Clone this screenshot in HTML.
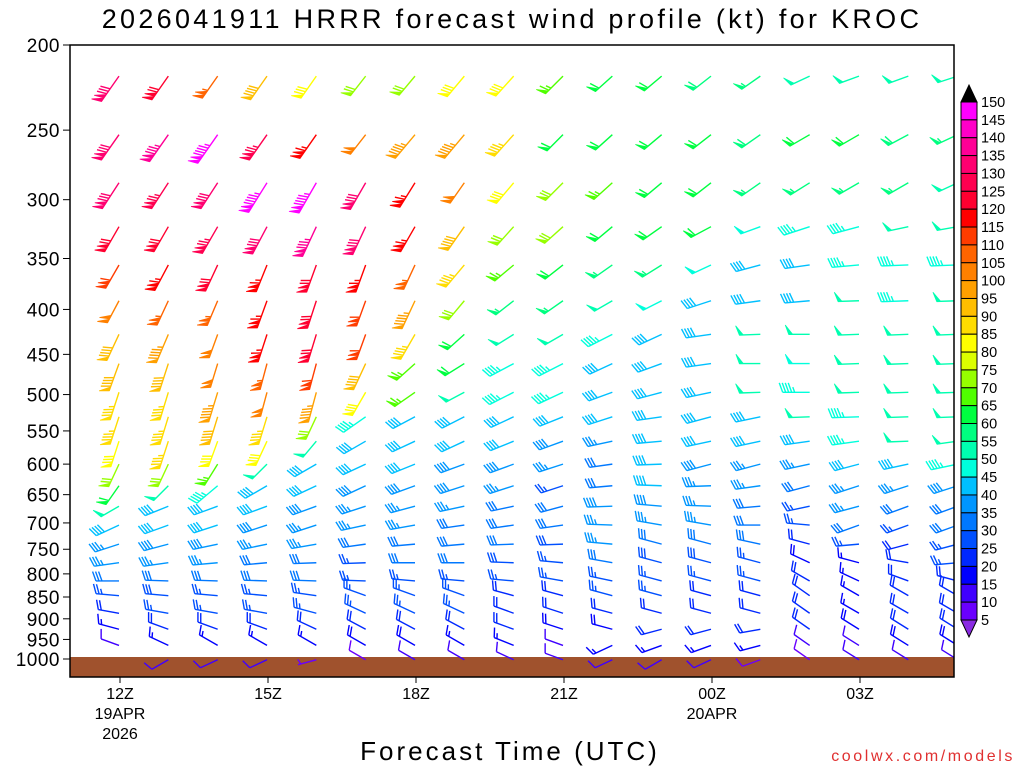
<!DOCTYPE html>
<html><head><meta charset="utf-8"><style>
body{margin:0;background:#fff;width:1024px;height:768px;overflow:hidden}
svg{display:block;font-family:"Liberation Sans",sans-serif}
</style></head><body>
<svg id="c" width="1024" height="768" viewBox="0 0 1024 768">
<text x="512" y="28" text-anchor="middle" font-size="27" fill="#000" letter-spacing="3.3">2026041911 HRRR forecast wind profile (kt) for KROC</text>
<text x="510" y="760" text-anchor="middle" font-size="26" fill="#000" letter-spacing="3">Forecast Time (UTC)</text>
<text x="1015" y="761" text-anchor="end" font-size="16" fill="#e03030" letter-spacing="2.6">coolwx.com/models</text>
<g id="plot"></g>
<g id="axes"></g>
<g id="cbar"></g>
</svg>
<script>
const hours=[12,13,14,15,16,17,18,19,20,21,22,23,24,25,26,27,28,29];
const levels=[217,253,287,322,356,391,427,461,497,530,565,600,635,670,704,740,777,815,847,887,925,965,1002];
const yTicks=[200,250,300,350,400,450,500,550,600,650,700,750,800,850,900,950,1000];
const xTickHours=[12,15,18,21,24,27];
const xTickLabels=["12Z","15Z","18Z","21Z","00Z","03Z"];
const cbLabels=[150,145,140,135,130,125,120,115,110,105,100,95,90,85,80,75,70,65,60,55,50,45,40,35,30,25,20,15,10,5];
const speed=[
[130,120,105,90,80,70,70,80,80,65,60,60,58,55,52,50,50,50],
[130,135,145,125,115,100,95,95,85,60,60,60,60,58,60,60,58,55],
[130,125,130,145,145,130,115,100,80,70,65,60,60,55,57,55,55,52],
[120,120,125,130,135,130,115,90,70,70,62,60,60,48,45,45,50,50],
[110,115,120,115,120,115,105,85,65,60,55,57,48,40,40,45,45,45],
[100,105,105,115,120,110,95,70,55,55,52,48,40,40,42,50,45,50],
[90,95,100,115,120,110,85,60,50,50,45,40,40,50,50,50,50,50],
[90,90,100,105,110,90,65,60,45,45,42,40,40,50,48,50,50,50],
[85,85,95,100,95,80,65,50,45,45,40,40,40,50,45,50,50,50],
[85,85,90,85,70,45,42,42,42,40,40,40,40,40,50,45,50,50],
[80,85,82,80,50,40,40,40,40,38,35,40,40,40,40,45,50,50],
[72,70,65,50,40,40,40,38,38,35,30,40,38,35,35,40,40,45],
[60,50,45,40,40,38,38,38,35,25,30,40,35,35,30,35,35,38],
[50,40,40,40,38,35,35,35,32,32,38,38,35,30,25,35,30,30],
[40,40,40,38,35,35,35,32,30,30,37,35,35,32,25,30,25,30],
[35,38,38,35,35,30,30,30,30,28,35,30,30,30,20,25,22,25],
[35,35,35,30,30,27,30,30,28,27,30,28,28,25,18,15,20,25],
[30,30,30,30,30,25,25,25,25,25,25,25,25,25,20,15,20,20],
[25,28,27,27,25,25,25,25,22,22,25,25,22,22,20,15,20,20],
[20,25,25,25,25,25,25,25,20,20,20,22,20,20,20,15,20,22],
[15,22,22,22,20,22,22,22,20,18,18,20,20,20,20,18,20,22],
[10,15,15,15,15,18,18,15,15,12,15,15,15,15,12,12,18,18],
[null,10,12,10,5,8,12,12,10,10,10,12,12,8,8,10,12,12]];
const dir=[
[215,215,215,215,215,218,220,220,222,225,228,230,232,235,245,250,250,252],
[215,215,215,215,215,218,220,220,222,225,228,230,232,235,240,240,242,245],
[213,213,213,212,210,210,212,215,220,225,228,230,232,235,238,240,240,245],
[210,210,210,208,205,205,210,215,222,228,230,235,242,250,252,255,258,260],
[210,208,205,202,200,200,205,220,230,232,235,238,245,255,262,265,268,268],
[208,205,203,200,198,200,205,220,232,235,240,243,252,262,265,268,268,268],
[205,203,200,198,197,200,210,228,238,240,243,245,262,268,270,268,268,268],
[200,198,197,195,195,205,228,238,242,243,245,250,262,270,270,268,268,268],
[198,197,197,195,195,210,235,242,243,245,250,255,258,268,270,268,268,268],
[198,197,197,197,205,235,242,243,245,248,252,262,255,258,268,268,268,268],
[198,198,200,205,220,240,245,245,248,250,258,265,258,258,262,262,268,262],
[205,205,212,225,240,245,248,250,250,252,262,268,255,255,258,255,258,258],
[215,225,230,240,245,245,250,252,252,252,265,272,268,262,255,252,252,252],
[240,248,250,250,250,252,255,258,258,255,268,275,272,265,258,255,250,250],
[245,250,252,252,252,258,260,262,262,262,272,280,280,270,275,250,250,250],
[252,255,258,258,260,262,265,265,268,268,275,285,285,282,285,265,255,255],
[262,262,265,265,268,268,270,270,272,275,280,285,285,285,295,285,280,265],
[270,272,272,272,272,272,275,275,275,280,282,285,285,285,300,295,290,285],
[275,275,275,275,278,290,290,290,285,285,285,285,285,285,305,300,300,300],
[280,280,280,280,285,295,295,295,290,288,285,285,285,285,305,300,300,300],
[285,290,290,290,295,298,298,298,290,288,285,255,255,260,305,302,302,302],
[290,295,300,300,300,300,300,300,292,290,245,250,250,255,305,302,302,302],
[300,240,245,245,255,300,300,300,295,290,245,240,245,250,305,302,302,302]];
const colors=["#6a00ff","#4000ff","#0000ff","#0028ff","#0050ff","#0078ff","#0096ff","#00c0ff","#00ffdc","#00ffb0","#00ff80","#00ff40","#50ff00","#96ff00","#dcff00","#ffff00","#ffdc00","#ffbe00","#ffa000","#ff8000","#ff6400","#ff3c00","#ff0000","#ff0030","#ff0050","#ff0070","#ff0096","#ff00c8","#ff00ff"];

const NS="http://www.w3.org/2000/svg";
const X0=70,X1=954,Y0=45,Y1=677;
const xS=h=>120+(h-12)*148/3;
const yS=p=>Y0+614*Math.log(p/200)/Math.log(5);
function mk(t,a,parent){const e=document.createElementNS(NS,t);for(const k in a)e.setAttribute(k,a[k]);parent.appendChild(e);return e;}
function colorFor(s){if(s<5)return "#8a2be2";const i=Math.min(28,Math.floor(s/5)-1);return colors[i];}

const plot=document.getElementById('plot');
const defs=mk('defs',{},document.getElementById('c'));
const cp=mk('clipPath',{id:'pc'},defs);mk('rect',{x:X0,y:Y0,width:X1-X0,height:Y1-Y0},cp);
const g=mk('rect',{x:X0,y:657,width:X1-X0,height:Y1-657,fill:'#a0522d'},plot);


const barbs=mk('g',{'clip-path':'url(#pc)'},plot);



function drawBarb(x,y,s,d,parent){
  let r=Math.round(s/5)*5;const nf=Math.floor(r/50);r-=nf*50;const nl=Math.floor(r/10);r-=nl*10;const nh=r>=5?1:0;
  const L=17+2*(nf*2+nl+nh);
  const rad=d*Math.PI/180;const ux=Math.sin(rad),uy=-Math.cos(rad);
  const rx=-uy,ry=ux;
  const a=20*Math.PI/180;const fx=rx*Math.cos(a)+ux*Math.sin(a),fy=ry*Math.cos(a)+uy*Math.sin(a);
  const col=colorFor(s);
  const grp=mk('g',{stroke:col,fill:col,'stroke-width':1.4},parent);
  
  
  const tx=x+ux*L,ty=y+uy*L;
  mk('line',{x1:x,y1:y,x2:tx,y2:ty},grp);
  let pos=L;const FL=10;
  for(let i=0;i<nf;i++){const p1x=x+ux*pos,p1y=y+uy*pos,p2x=x+ux*(pos-4),p2y=y+uy*(pos-4);
    mk('polygon',{points:`${p1x},${p1y} ${p1x+fx*FL},${p1y+fy*FL} ${p2x},${p2y}`,'stroke-width':0.8},grp);pos-=4.5;}
  if(nf>0)pos-=0.5;
  for(let i=0;i<nl;i++){const px=x+ux*pos,py=y+uy*pos;mk('line',{x1:px,y1:py,x2:px+fx*FL,y2:py+fy*FL},grp);pos-=3;}
  if(nh){if(nf+nl===0)pos-=3;const px=x+ux*pos,py=y+uy*pos;mk('line',{x1:px,y1:py,x2:px+fx*FL*0.55,y2:py+fy*FL*0.55},grp);}
}
for(let i=0;i<levels.length;i++)for(let j=0;j<hours.length;j++){
  const s=speed[i][j];if(s===null)continue;
  drawBarb(xS(hours[j])-1,yS(levels[i]),s,dir[i][j],barbs);
}
const ax=document.getElementById('axes');
const fr=mk('rect',{x:X0,y:Y0,width:X1-X0,height:Y1-Y0,fill:'none',stroke:'#000','stroke-width':1.5},ax);


yTicks.forEach(p=>{const y=yS(p);mk('line',{x1:X0-7,y1:y,x2:X0,y2:y,stroke:'#000','stroke-width':1},ax);
  const t=mk('text',{x:X0-10,y:y+7,'text-anchor':'end','font-size':19,fill:'#000','letter-spacing':0.5},ax);t.textContent=p;
  
  });
xTickHours.forEach((h,i)=>{const x=xS(h);mk('line',{x1:x,y1:Y1,x2:x,y2:Y1+6,stroke:'#000','stroke-width':1},ax);
  const t=mk('text',{x:x,y:699,'text-anchor':'middle','font-size':16,fill:'#000'},ax);t.textContent=xTickLabels[i];
  
  });
[["19APR",120,719],["2026",120,739],["20APR",712,719]].forEach(a=>{const t=mk('text',{x:a[1],y:a[2],'text-anchor':'middle','font-size':16,fill:'#000'},ax);t.textContent=a[0];
  
  });
const cb=document.getElementById('cbar');const CT=102,CB=620,CX=961,CW=16;const bh=(CB-CT)/29;
mk('polygon',{points:`${CX},${CT} ${CX+CW},${CT} ${CX+CW/2},${CT-17}`,fill:'#000',stroke:'#000'},cb);
mk('polygon',{points:`${CX},${CB} ${CX+CW},${CB} ${CX+CW/2},${CB+17}`,fill:'#8a2be2',stroke:'#000'},cb);
for(let i=0;i<29;i++){const r=mk('rect',{x:CX,y:CT+i*bh,width:CW,height:bh,fill:colors[28-i],stroke:'#000','stroke-width':1},cb);
  
  }
cbLabels.forEach((v,i)=>{const t=mk('text',{x:981,y:CT+i*bh+5,'font-size':14.5,fill:'#000'},cb);t.textContent=v;
  
  });
</script>
</body></html>
